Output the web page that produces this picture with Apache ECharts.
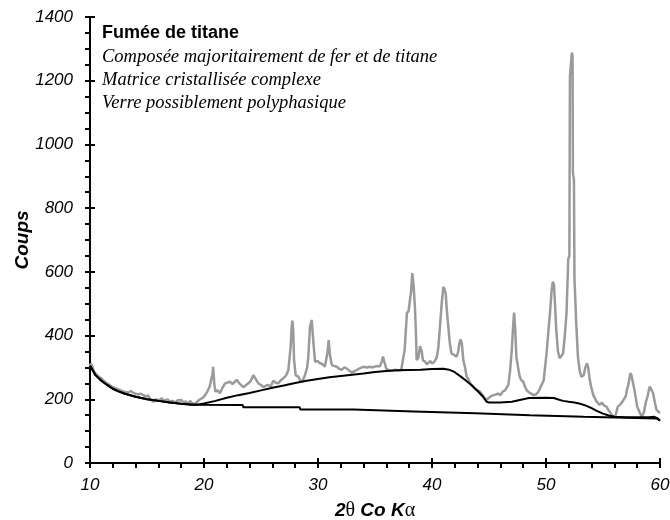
<!DOCTYPE html>
<html>
<head>
<meta charset="utf-8">
<script src="https://cdn.jsdelivr.net/npm/echarts@6/dist/echarts.min.js"></script>
<style>
  html, body { margin: 0; padding: 0; background: #fff; }
  #chart { width: 670px; height: 520px; }
</style>
</head>
<body>
<div id="chart"></div>
<script>
// Diffractogram: [2θ, counts]
const diffractogram = [
  [10.0,300],[10.05,312],[10.1,315],[10.2,305],[10.3,292],[10.45,282],[10.6,276],[10.8,270],
  [11.0,266],[11.2,258],[11.4,252],[11.6,248],[11.75,245],[12.0,238],[12.2,235],[12.5,231],
  [12.8,226],[13.1,223],[13.4,222],[13.6,226],[13.8,220],[13.95,224],[14.2,215],[14.4,218],
  [14.7,213],[14.9,208],[15.1,212],[15.3,200],[15.55,192],[15.8,200],[16.0,196],[16.3,203],
  [16.5,195],[16.8,200],[17.0,193],[17.2,195],[17.5,190],[17.7,197],[18.0,198],[18.2,190],
  [18.4,193],[18.6,186],[18.8,195],[19.0,185],[19.1,182],[19.3,188],[19.5,196],[19.65,198],
  [19.9,205],[20.1,213],[20.3,225],[20.5,240],[20.65,235],[20.75,280],[20.8,302],[20.85,300],
  [20.9,250],[21.0,224],[21.2,228],[21.4,219],[21.6,235],[21.85,250],[22.0,245],[22.28,255],
  [22.5,248],[22.87,261],[23.1,250],[23.45,238],[23.7,245],[24.04,255],[24.2,265],[24.33,276],
  [24.5,270],[24.77,250],[25.0,245],[25.2,238],[25.4,242],[25.64,245],[25.85,240],[26.08,258],
  [26.3,252],[26.5,250],[26.7,258],[26.96,266],[27.2,275],[27.4,292],[27.6,365],[27.68,420],
  [27.75,447],[27.82,420],[27.9,323],[28.04,276],[28.27,271],[28.5,255],[28.7,262],[28.86,276],
  [29.05,300],[29.15,334],[29.3,428],[29.45,449],[29.6,376],[29.74,318],[29.95,320],[30.18,313],
  [30.4,310],[30.6,302],[30.82,344],[30.94,386],[31.05,339],[31.2,308],[31.4,305],[31.64,302],
  [31.85,296],[32.07,292],[32.3,300],[32.5,297],[32.75,290],[32.95,284],[33.2,288],[33.4,292],
  [33.7,298],[33.97,302],[34.3,300],[34.56,302],[34.8,300],[35.1,304],[35.44,304],[35.6,320],
  [35.7,334],[35.8,320],[36.0,295],[36.2,292],[36.5,290],[36.8,293],[37.0,290],[37.3,292],
  [37.6,355],[37.8,470],[37.95,478],[38.07,480],[38.17,540],[38.27,596],[38.38,560],[38.5,491],
  [38.6,400],[38.65,323],[38.8,330],[38.95,367],[39.1,350],[39.2,323],[39.4,318],[39.55,310],
  [39.7,313],[39.85,320],[40.0,312],[40.2,318],[40.4,329],[40.55,360],[40.7,428],[40.85,500],
  [41.0,553],[41.1,545],[41.2,533],[41.3,480],[41.43,428],[41.55,380],[41.7,344],[41.9,340],
  [42.16,334],[42.3,350],[42.4,375],[42.5,388],[42.62,375],[42.75,323],[42.9,300],[43.04,271],
  [43.2,262],[43.4,248],[43.6,240],[43.8,232],[44.0,228],[44.2,224],[44.4,215],[44.6,205],
  [44.8,198],[45.0,205],[45.2,210],[45.4,213],[45.6,215],[45.8,218],[46.0,213],[46.2,224],
  [46.4,228],[46.7,245],[46.85,290],[47.0,355],[47.1,420],[47.2,472],[47.3,420],[47.4,334],
  [47.55,300],[47.7,271],[47.8,262],[47.9,266],[48.0,255],[48.15,240],[48.3,229],[48.5,222],
  [48.7,218],[48.9,213],[49.1,215],[49.3,222],[49.45,232],[49.6,235],[49.8,260],[50.05,344],
  [50.2,410],[50.35,470],[50.5,545],[50.6,569],[50.7,560],[50.8,490],[50.9,418],[51.05,350],
  [51.2,329],[51.35,335],[51.5,344],[51.65,400],[51.8,470],[51.9,580],[51.95,640],[52.05,650],
  [52.08,1000],[52.1,1213],[52.27,1288],[52.33,1280],[52.36,910],[52.45,890],[52.5,575],
  [52.54,543],[52.65,440],[52.8,334],[52.95,290],[53.1,271],[53.3,275],[53.45,300],[53.6,313],
  [53.7,300],[53.8,271],[53.95,240],[54.15,213],[54.4,195],[54.7,182],[54.9,190],[55.1,180],
  [55.3,177],[55.5,165],[55.7,155],[55.9,145],[56.1,150],[56.3,177],[56.55,185],[56.8,198],
  [57.0,210],[57.1,230],[57.25,250],[57.4,282],[57.5,275],[57.7,240],[57.85,210],[58.0,177],
  [58.2,160],[58.4,145],[58.6,160],[58.75,190],[58.9,208],[59.0,225],[59.1,240],[59.2,238],
  [59.4,219],[59.55,190],[59.7,166],[59.85,160],[60.0,157]
];

// Amorphous hump background
const backgroundHump = [
  [10,305],[10.5,275],[11,258],[11.5,245],[12,233],[12.5,225],[13,218],[14,208],[15,200],
  [16,195],[17,190],[18,186],[19,184],[19.5,184],[20,187],[21,195],[22,205],[23,213],[24,220],
  [25,228],[26,236],[27,243],[28,251],[29,258],[30,264],[31,269],[32,273],[33,277],[34,281],
  [35,286],[36,289],[37,291],[38,292],[39,293],[40,295],[41,296],[41.5,293],[42,285],[42.5,272],
  [43,258],[43.5,243],[44,226],[44.5,207],[44.8,192],[45,190],[46,190],[47,192],[47.5,196],
  [48,200],[48.5,204],[50,205],[50.7,204],[51,200],[51.5,195],[52,192],[52.5,190],[53,186],
  [53.5,180],[54,172],[54.5,163],[55,155],[55.5,149],[56,145],[57,144],[58,144],[59,144],
  [59.5,145],[59.8,140],[60,133]
];

// Instrumental background (stepped)
const backgroundBase = [
  [10,305],[10.5,275],[11,258],[11.5,245],[12,233],[12.5,225],[13,218],[14,208],[15,200],
  [16,195],[17,190],[18,186],[18.8,183],[23.4,182],[23.45,175],[28.4,175],[28.45,168],
  [33.1,168],[33.15,162],[38.4,162],[38.45,156],[43.8,156],[43.85,150],[48.6,150],[48.65,145],
  [53.3,145],[53.35,140],[59.7,140],[60,133]
];

const titleText = 'Fumée de titane';
const noteLines = [
  'Composée majoritairement de fer et de titane',
  'Matrice cristallisée complexe',
  'Verre possiblement polyphasique'
];

const chart = echarts.init(document.getElementById('chart'), null, { renderer: 'canvas' });

const labelFont = { fontFamily: 'Liberation Sans, Arial, sans-serif', fontStyle: 'italic', fontSize: 17, color: '#000' };
const tickStyle = { color: '#000', width: 2 };

const option = {
  backgroundColor: '#fff',
  animation: false,
  grid: { left: 90, right: 10, top: 17, bottom: 57, containLabel: false, outerBoundsMode: 'none' },
  xAxis: [
    {
      type: 'value', min: 10, max: 60, interval: 10,
      axisLine: { lineStyle: { color: '#000', width: 2 } },
      axisTick: { show: true, length: 5, lineStyle: tickStyle },
      minorTick: { show: true, splitNumber: 5, length: 5, lineStyle: tickStyle },
      splitLine: { show: false },
      axisLabel: Object.assign({ margin: 14 }, labelFont),
      name: '{b|2}{g|θ}{b| Co K}{g|α}',
      nameLocation: 'middle',
      nameGap: 38,
      nameMoveOverlap: false,
      nameTextStyle: {
        rich: {
          b: { fontFamily: 'Liberation Sans, Arial, sans-serif', fontStyle: 'italic', fontWeight: 'bold', fontSize: 19, color: '#000' },
          g: { fontFamily: 'Liberation Serif, Times New Roman, serif', fontSize: 20, color: '#000' }
        }
      }
    },
    {
      type: 'value', min: 10, max: 60, interval: 10, position: 'bottom',
      axisLine: { show: false },
      axisTick: { show: true, inside: true, length: 5, lineStyle: tickStyle },
      axisLabel: { show: false },
      splitLine: { show: false }
    }
  ],
  yAxis: [
    {
      type: 'value', min: 0, max: 1400, interval: 200,
      axisLine: { show: true, lineStyle: { color: '#000', width: 2 } },
      axisTick: { show: true, length: 5, lineStyle: tickStyle },
      minorTick: { show: true, splitNumber: 4, length: 5, lineStyle: tickStyle },
      splitLine: { show: false },
      axisLabel: Object.assign({ margin: 17, formatter: v => String(v) }, labelFont),
      name: 'Coups',
      nameLocation: 'middle',
      nameGap: 58,
      nameMoveOverlap: false,
      nameTextStyle: { fontFamily: 'Liberation Sans, Arial, sans-serif', fontStyle: 'italic', fontWeight: 'bold', fontSize: 19, color: '#000' }
    },
    {
      type: 'value', min: 0, max: 1400, interval: 200, position: 'left',
      axisLine: { show: false },
      axisTick: { show: true, inside: true, length: 5, lineStyle: tickStyle },
      axisLabel: { show: false },
      splitLine: { show: false }
    }
  ],
  series: [
    {
      name: 'Diffractogramme', type: 'line', data: diffractogram,
      showSymbol: false, symbol: 'none',
      lineStyle: { color: '#9a9a9a', width: 2.5 }, z: 2
    },
    {
      name: 'Fond amorphe', type: 'line', data: backgroundHump,
      showSymbol: false, symbol: 'none',
      lineStyle: { color: '#000', width: 2 }, z: 3
    },
    {
      name: 'Fond', type: 'line', data: backgroundBase,
      showSymbol: false, symbol: 'none',
      lineStyle: { color: '#000', width: 2 }, z: 3
    }
  ],
  graphic: [
    {
      type: 'text', x: 102, y: 33,
      style: { text: titleText, font: 'bold 18px "Liberation Sans", Arial, sans-serif', fill: '#000', verticalAlign: 'middle' }
    }
  ].concat(noteLines.map((t, i) => ({
    type: 'text', x: 102, y: 57 + i * 23.3,
    style: { text: t, font: 'italic 18.5px "Liberation Serif", "Times New Roman", serif', fill: '#000', verticalAlign: 'middle' }
  })))
};

chart.setOption(option);
</script>
</body>
</html>
